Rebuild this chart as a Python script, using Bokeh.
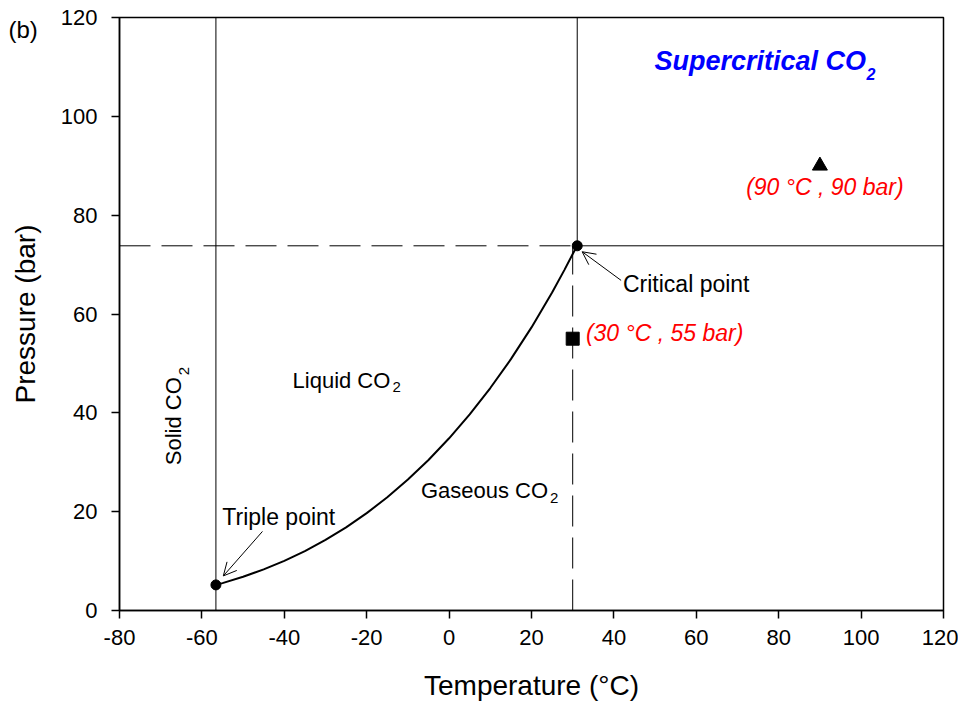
from math import pi
from bokeh.plotting import figure
from bokeh.models import Label, Arrow, OpenHead, FixedTicker, Range1d, PrintfTickFormatter
from bokeh.embed import file_html
from bokeh.resources import INLINE

FONT = "Liberation Sans"

# ---- data ----
x_ticks = [-80, -60, -40, -20, 0, 20, 40, 60, 80, 100, 120]
y_ticks = [0, 20, 40, 60, 80, 100, 120]
x_min, x_max = -80, 120
y_min, y_max = 0, 120

triple_T, triple_P = -56.6, 5.18
crit_T, crit_P = 31.1, 73.8
sample_T = [30.0]
sample_P = [55.0]
sc_T = [90.0]
sc_P = [90.0]

# liquid-vapour coexistence curve, triple point -> critical point
curve_T = [-56.6, -55, -50, -45, -40, -35, -30, -25, -20, -15, -10, -5,
           0, 5, 10, 15, 20, 25, 28, 30, 31.1]
curve_P = [5.18, 5.54, 6.82, 8.32, 10.05, 12.02, 14.28, 16.83, 19.70, 22.91, 26.49, 30.46,
           34.85, 39.69, 45.02, 50.86, 57.29, 64.34, 68.93, 72.14, 73.8]

p = figure(width=958, height=703,
           x_range=Range1d(x_min, x_max), y_range=Range1d(y_min, y_max),
           output_backend="svg", toolbar_location=None,
           min_border_left=119, min_border_right=15,
           min_border_top=17, min_border_bottom=92)

p.xgrid.visible = False
p.ygrid.visible = False
p.outline_line_color = "black"
p.outline_line_width = 1.5
p.background_fill_color = "white"
p.border_fill_color = "white"

# panel tag "(b)"
p.title.text = "(b)"
p.title.text_font = FONT
p.title.text_font_size = "24px"
p.title.text_font_style = "normal"
p.title.text_color = "black"
p.title.align = "left"
p.title.vertical_align = "bottom"
p.title.standoff = -50
p.title.offset = -111

for ax in (p.xaxis[0], p.yaxis[0]):
    ax.axis_line_width = 1.5
    ax.axis_line_color = "black"
    ax.major_tick_line_color = "black"
    ax.major_tick_line_width = 1.5
    ax.major_tick_out = 8
    ax.major_tick_in = 0
    ax.minor_tick_line_color = None
    ax.major_label_text_font = FONT
    ax.major_label_text_font_size = "22px"
    ax.major_label_text_color = "black"
    ax.axis_label_text_font = FONT
    ax.axis_label_text_font_size = "28px"
    ax.axis_label_text_font_style = "normal"
    ax.axis_label_text_color = "black"
    ax.formatter = PrintfTickFormatter(format="%d")

p.xaxis.ticker = FixedTicker(ticks=x_ticks)
p.yaxis.ticker = FixedTicker(ticks=y_ticks)
p.xaxis.axis_label = "Temperature (°C)"
p.yaxis.axis_label = "Pressure (bar)"
p.xaxis.major_label_standoff = 11
p.xaxis.axis_label_standoff = 22
p.yaxis.major_label_standoff = 14
p.yaxis.axis_label_standoff = 17

# ---- lines ----
p.line([triple_T, triple_T], [y_min, y_max], line_color="black", line_width=1)
p.line([crit_T, crit_T], [crit_P, y_max], line_color="black", line_width=1)
p.line([crit_T, x_max], [crit_P, crit_P], line_color="black", line_width=1)
p.line([x_min, crit_T], [crit_P, crit_P], line_color="black", line_width=1, line_dash="31 11")
p.line([sample_T[0], sample_T[0]], [y_min, crit_P], line_color="black", line_width=1, line_dash="31 11")

p.line(curve_T, curve_P, line_color="black", line_width=2)

# ---- markers ----
p.scatter([triple_T, crit_T], [triple_P, crit_P], marker="circle", size=10,
          fill_color="black", line_color="black")
p.scatter(sample_T, sample_P, marker="square", size=13, fill_color="black", line_color="black")
p.scatter(sc_T, sc_P, marker="triangle", size=15, fill_color="black", line_color="black")

# ---- arrows ----
p.add_layout(Arrow(end=OpenHead(size=13, line_width=1, line_color="black"),
                   x_start=41.75, y_start=66.8, x_end=32.3, y_end=72.6,
                   line_width=1, line_color="black"))
p.add_layout(Arrow(end=OpenHead(size=13, line_width=1, line_color="black"),
                   x_start=-45.3, y_start=16.0, x_end=-54.8, y_end=7.0,
                   line_width=1, line_color="black"))

# ---- text ----
def lab(x, y, text, size=23, color="black", style="normal", angle=0, xo=0, yo=0):
    p.add_layout(Label(x=x, y=y, text=text, text_font=FONT, text_font_size=f"{size}px",
                       text_color=color, text_font_style=style, angle=angle,
                       x_offset=xo, y_offset=yo, text_baseline="alphabetic",
                       text_align="left"))

lab(49.85, 109.1, "Supercritical CO", size=27, color="#0000ff", style="bold italic", yo=10)
lab(49.85, 109.1, "2", size=16, color="#0000ff", style="bold italic", xo=212, yo=-3)

lab(72.1, 84.3, "(90 °C , 90 bar)", color="#ff0000", style="italic", yo=6.5)
lab(33.2, 54.7, "(30 °C , 55 bar)", color="#ff0000", style="italic", yo=6.8)
lab(42.2, 64.1, "Critical point", yo=10)
lab(-55.05, 17.5, "Triple point", yo=7)

lab(-38.0, 44.4, "Liquid CO", size=22, yo=11)
lab(-38.0, 44.4, "2", size=15, xo=100, yo=4)

lab(-6.85, 22.5, "Gaseous CO", size=22, yo=8.5)
lab(-6.85, 22.5, "2", size=15, xo=129, yo=1.8)

lab(-65.35, 29.4, "Solid CO", size=22, angle=pi / 2, xo=-6)
lab(-65.35, 29.4, "2", size=15, angle=pi / 2, xo=4, yo=90)

open("out.html", "w").write(file_html(p, INLINE))
